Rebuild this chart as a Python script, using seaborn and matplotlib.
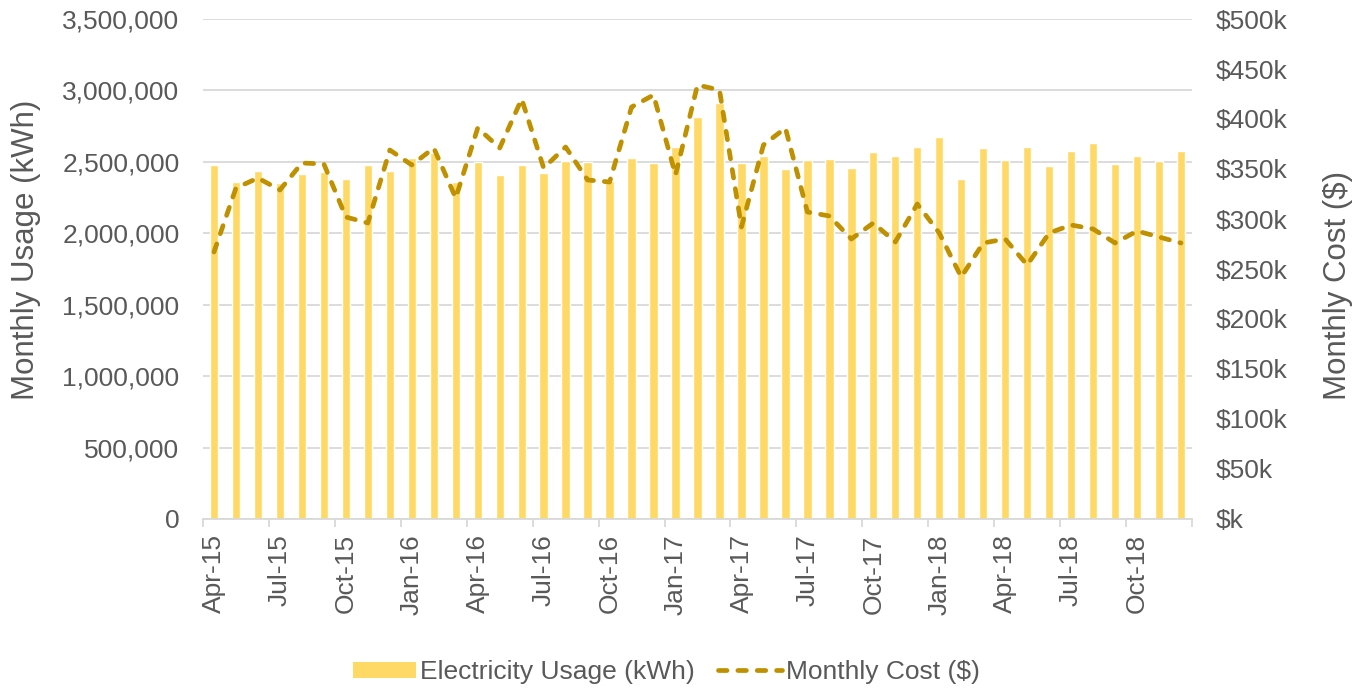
import numpy as np
import pandas as pd
import matplotlib
matplotlib.use("Agg")
import matplotlib.pyplot as plt
import seaborn as sns
from matplotlib.ticker import FuncFormatter
from matplotlib.patches import Patch
from matplotlib.lines import Line2D

# ---------------- data ----------------
months = [
    "Apr-15", "May-15", "Jun-15", "Jul-15", "Aug-15", "Sep-15", "Oct-15", "Nov-15", "Dec-15",
    "Jan-16", "Feb-16", "Mar-16", "Apr-16", "May-16", "Jun-16", "Jul-16", "Aug-16", "Sep-16",
    "Oct-16", "Nov-16", "Dec-16", "Jan-17", "Feb-17", "Mar-17", "Apr-17", "May-17", "Jun-17",
    "Jul-17", "Aug-17", "Sep-17", "Oct-17", "Nov-17", "Dec-17", "Jan-18", "Feb-18", "Mar-18",
    "Apr-18", "May-18", "Jun-18", "Jul-18", "Aug-18", "Sep-18", "Oct-18", "Nov-18", "Dec-18",
]
usage_kwh = [
    2478000, 2357000, 2438000, 2354000, 2417000, 2431000, 2380000, 2478000, 2438000,
    2529000, 2560000, 2361000, 2501000, 2408000, 2478000, 2424000, 2508000, 2501000,
    2368000, 2529000, 2490000, 2602000, 2816000, 2910000, 2490000, 2541000, 2448000,
    2513000, 2520000, 2455000, 2567000, 2543000, 2604000, 2672000, 2378000, 2597000,
    2513000, 2604000, 2469000, 2576000, 2634000, 2483000, 2543000, 2506000, 2576000,
]
cost_usd = [
    267000, 331000, 341000, 329000, 356000, 355000, 302000, 296000, 369000,
    354000, 371000, 321000, 391000, 371000, 420000, 351000, 372000, 339000,
    337000, 412000, 424000, 344000, 434000, 429000, 292000, 374000, 391000,
    307000, 303000, 280000, 296000, 277000, 315000, 286000, 242000, 276000,
    280000, 254000, 286000, 294000, 290000, 276000, 288000, 282000, 276000,
]
tick_labels = months[::3]
usage_label = "Electricity Usage (kWh)"
cost_label = "Monthly Cost ($)"
left_title = "Monthly Usage (kWh)"
right_title = "Monthly Cost ($)"

# ---------------- style ----------------
BAR = "#FFD966"
LINE = "#BF9000"
TXT = "#595959"
GRID = "#D9D9D9"

sns.set_theme(style="white")
plt.rcParams["font.family"] = ["Liberation Sans", "DejaVu Sans"]

W, H = 1364, 692
fig = plt.figure(figsize=(W / 100, H / 100), dpi=100)
ax = fig.add_axes([203 / W, 1 - 519 / H, 989 / W, 500 / H])

df = pd.DataFrame({"month": months, "usage": usage_kwh, "cost": cost_usd})
df["pos"] = np.arange(len(df))

sns.barplot(data=df, x="month", y="usage", order=months, color=BAR,
            saturation=1, width=0.38, ax=ax, zorder=2)

n = len(months)
ax.set_xlim(-0.5, n - 0.5)
ax.set_ylim(0, 3500000)
ax.set_yticks(np.arange(0, 3500001, 500000))
ax.yaxis.set_major_formatter(FuncFormatter(lambda v, p: f"{v:,.0f}"))
ax.grid(axis="y", color=GRID, lw=1.3, zorder=0)
ax.grid(axis="x", visible=False)
ax.set_axisbelow(True)
for s in ["left", "right", "top"]:
    ax.spines[s].set_visible(False)
ax.spines["bottom"].set_color(GRID)
ax.spines["bottom"].set_linewidth(1.3)

# x ticks: marks at category boundaries, labels at category centres
ax.set_xticks(np.arange(-0.5, n, 3))
ax.set_xticklabels([])
ax.set_xticks(np.arange(0, n, 3), minor=True)
ax.set_xticklabels(tick_labels, minor=True, rotation=90, va="top", ha="center")
ax.tick_params(axis="x", which="major", length=6, width=1.3, color=GRID, bottom=True)
ax.tick_params(axis="x", which="minor", length=0, pad=11, labelsize=19, labelcolor=TXT)
ax.tick_params(axis="y", length=0, pad=17, labelsize=19, labelcolor=TXT)
ax.set_xlabel("")
ax.set_ylabel(left_title, fontsize=22.5, color=TXT)
ax.yaxis.set_label_coords(-0.164, 0.538)

# secondary axis: monthly cost
ax2 = ax.twinx()
sns.lineplot(data=df, x="pos", y="cost", ax=ax2, color=LINE, lw=3.4,
             linestyle=(0, (1.8, 2.3)), dash_capstyle="round")
ax2.set_xlim(-0.5, n - 0.5)
ax2.set_ylim(0, 500000)
ax2.set_yticks(np.arange(0, 500001, 50000))
ax2.yaxis.set_major_formatter(
    FuncFormatter(lambda v, p: f"${int(round(v / 1000))}k" if v else "$k"))
for s in ax2.spines.values():
    s.set_visible(False)
ax2.grid(False)
ax2.tick_params(axis="y", length=0, pad=17, labelsize=19, labelcolor=TXT)
ax2.set_xlabel("")
ax2.set_ylabel(right_title, fontsize=22.5, color=TXT, rotation=90)
ax2.yaxis.set_label_coords(1.132, 0.468)

# legend
handles = [
    Patch(facecolor=BAR, edgecolor="none", label=usage_label),
    Line2D([0], [0], color=LINE, lw=3.4, linestyle=(0, (1.8, 2.3)),
           dash_capstyle="round", label=cost_label),
]
fig.legend(handles=handles, loc="center", bbox_to_anchor=(666 / W, 1 - 672 / H),
           ncol=2, frameon=False, fontsize=19, labelcolor=TXT,
           handlelength=2.4, handleheight=0.55, handletextpad=0.15,
           columnspacing=0.9)

fig.savefig("out.png", dpi=100, facecolor="white")
